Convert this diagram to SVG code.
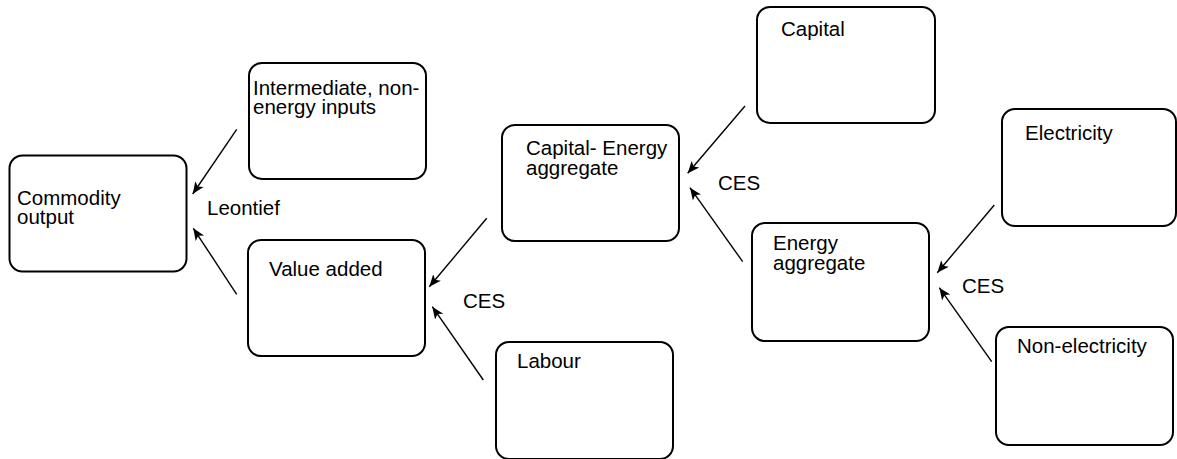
<svg xmlns="http://www.w3.org/2000/svg" width="1177" height="459" viewBox="0 0 1177 459">
<style>
.box{fill:#fff;stroke:#000;stroke-width:2}
.t{font-family:"Liberation Sans",Arial,sans-serif;font-size:20.5px;fill:#000}
.c{stroke:#000;stroke-width:1.4;fill:none;marker-end:url(#ah)}
</style>
<defs>
<marker id="ah" markerUnits="userSpaceOnUse" markerWidth="14" markerHeight="12" refX="12" refY="5" orient="auto" viewBox="0 0 14 10">
<path d="M0,0 L12,5 L0,10 L3,5 Z" fill="#000"/>
</marker>
</defs>
<rect width="1177" height="459" fill="#fff"/>
<g id="commodity">
<rect class="box" x="9.5" y="155.5" width="177" height="116" rx="13"/>
<text class="t" x="17" y="205">Commodity</text>
<text class="t" x="17" y="224">output</text>
</g>
<g id="intermediate">
<rect class="box" x="249" y="63" width="177" height="116" rx="13"/>
<text class="t" x="253" y="95">Intermediate, non-</text>
<text class="t" x="253" y="114">energy inputs</text>
</g>
<g id="valueadded">
<rect class="box" x="248" y="240" width="177" height="116" rx="13"/>
<text class="t" x="269" y="276">Value added</text>
</g>
<g id="capitalenergy">
<rect class="box" x="502" y="125" width="177" height="116" rx="13"/>
<text class="t" x="526" y="155">Capital- Energy</text>
<text class="t" x="526" y="175">aggregate</text>
</g>
<g id="labour">
<rect class="box" x="496" y="342" width="177" height="117" rx="13"/>
<text class="t" x="517" y="368">Labour</text>
</g>
<g id="capital">
<rect class="box" x="757" y="7" width="178" height="116" rx="13"/>
<text class="t" x="781" y="36">Capital</text>
</g>
<g id="energy">
<rect class="box" x="752" y="223" width="177" height="118" rx="13"/>
<text class="t" x="773" y="250">Energy</text>
<text class="t" x="773" y="270">aggregate</text>
</g>
<g id="electricity">
<rect class="box" x="1002" y="109" width="174" height="117" rx="13"/>
<text class="t" x="1025" y="140">Electricity</text>
</g>
<g id="nonelectricity">
<rect class="box" x="996" y="327" width="177" height="118" rx="13"/>
<text class="t" x="1017" y="353">Non-electricity</text>
</g>
<g id="labels">
<text class="t" x="207" y="215">Leontief</text>
<text class="t" x="463" y="308">CES</text>
<text class="t" x="718" y="190">CES</text>
<text class="t" x="962" y="293">CES</text>
</g>
<g id="connectors">
<line class="c" x1="236.7" y1="129.3" x2="192.7" y2="194"/>
<line class="c" x1="236.7" y1="294.3" x2="193.3" y2="228.3"/>
<line class="c" x1="486.7" y1="218.3" x2="429.3" y2="286.7"/>
<line class="c" x1="483.3" y1="380" x2="432.3" y2="306.7"/>
<line class="c" x1="745" y1="106" x2="687.7" y2="173.3"/>
<line class="c" x1="742.7" y1="261.7" x2="690" y2="187.7"/>
<line class="c" x1="994.3" y1="205" x2="937.3" y2="272.7"/>
<line class="c" x1="991.7" y1="361.7" x2="939.3" y2="287.7"/>
</g>
</svg>
